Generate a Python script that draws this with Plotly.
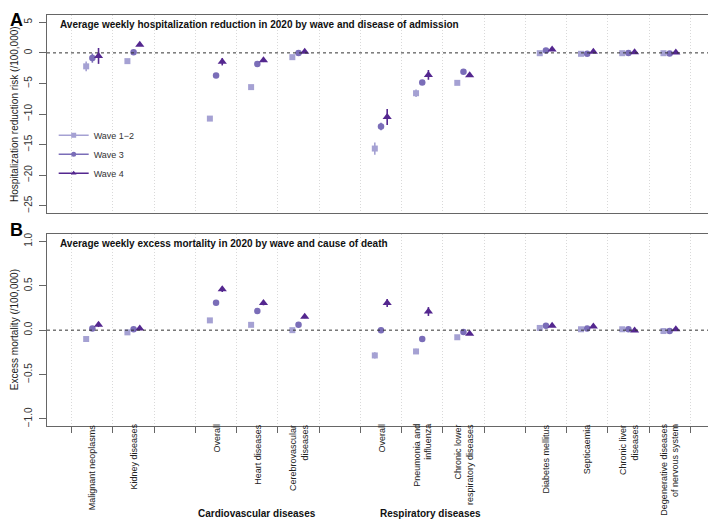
import plotly.graph_objects as go

# ---------------- data ----------------
categories = ["Malignant neoplasms", "Kidney diseases", "Overall", "Heart diseases",
              "Cerebrovascular<br>diseases", "Overall", "Pneumonia and<br>influenza",
              "Chronic lower<br>respiratory diseases", "Diabetes mellitus", "Septicaemia",
              "Chronic liver<br>diseases", "Degenerative diseases<br>of nervous system"]
waves = ["Wave 1\u22122", "Wave 3", "Wave 4"]
groups = ["Cardiovascular diseases", "Respiratory diseases"]

hosp_w12 = [-2.2, -1.35, -10.75, -5.6, -0.7, -15.65, -6.6, -4.9, -0.05, -0.15, -0.05, -0.05]
hosp_w3 = [-0.85, 0.1, -3.7, -1.8, 0.0, -12.05, -4.85, -3.1, 0.4, -0.15, 0.0, -0.1]
hosp_w4 = [-0.5, 1.35, -1.45, -1.2, 0.2, -10.5, -3.6, -3.65, 0.55, 0.2, 0.1, 0.05]
hosp_e12 = [0.8, 0.2, 0.3, 0.3, 0.2, 1.0, 0.6, 0.3, 0.1, 0.1, 0.1, 0.1]
hosp_e3 = [0.75, 0.2, 0.3, 0.2, 0.1, 0.6, 0.3, 0.2, 0.1, 0.1, 0.1, 0.1]
hosp_e4 = [1.3, 0.2, 0.6, 0.3, 0.1, 1.3, 0.8, 0.2, 0.1, 0.1, 0.1, 0.1]

mort_w12 = [-0.10, -0.025, 0.11, 0.06, 0.0, -0.285, -0.24, -0.08, 0.025, 0.01, 0.01, -0.01]
mort_w3 = [0.02, 0.01, 0.31, 0.215, 0.06, 0.0, -0.10, -0.02, 0.05, 0.02, 0.01, -0.01]
mort_w4 = [0.06, 0.02, 0.46, 0.305, 0.15, 0.305, 0.21, -0.04, 0.05, 0.04, -0.005, 0.01]
mort_e12 = [0.015, 0.01, 0.02, 0.015, 0.01, 0.035, 0.03, 0.01, 0.01, 0.005, 0.005, 0.005]
mort_e3 = [0.01, 0.005, 0.015, 0.01, 0.01, 0.015, 0.01, 0.01, 0.005, 0.005, 0.005, 0.005]
mort_e4 = [0.025, 0.01, 0.03, 0.025, 0.015, 0.045, 0.05, 0.01, 0.01, 0.01, 0.005, 0.005]

# ---------------- layout helpers ----------------
positions = [1, 2, 4, 5, 6, 8, 9, 10, 12, 13, 14, 15]
group_pos = [5, 9.2]
grid_pos = [p + 0.5 for p in range(0, 16)]
offsets = [-0.15, 0.0, 0.15]
colors = ["#A5A1D3", "#7A6DB8", "#54278F"]
symbols = ["square", "circle", "triangle-up"]
sizes = [6, 6.5, 8]
FONT = "Liberation Sans, Arial, sans-serif"

fig = go.Figure()

panels = [
    ("x", "y", [hosp_w12, hosp_w3, hosp_w4], [hosp_e12, hosp_e3, hosp_e4]),
    ("x2", "y2", [mort_w12, mort_w3, mort_w4], [mort_e12, mort_e3, mort_e4]),
]
for xa, ya, vals, errs in panels:
    for i in range(3):
        fig.add_trace(go.Scatter(
            x=[p + offsets[i] for p in positions], y=vals[i], mode="markers",
            marker=dict(symbol=symbols[i], size=sizes[i], color=colors[i], line=dict(width=0)),
            error_y=dict(type="data", array=errs[i], color=colors[i], thickness=1.6, width=0),
            showlegend=False, xaxis=xa, yaxis=ya, name=waves[i]))

# legend entries
for i in range(3):
    fig.add_trace(go.Scatter(
        x=[None], y=[None], mode="lines+markers", name=waves[i],
        marker=dict(symbol=symbols[i], size=5, color=colors[i]),
        line=dict(color=colors[i], width=1.5), xaxis="x", yaxis="y"))

axis_common = dict(range=[-0.1, 16.1], tickvals=grid_pos, showticklabels=False,
                   showgrid=True, gridcolor="#d9d9d9", griddash="1px,2px", gridwidth=1,
                   showline=True, mirror=True, linecolor="#666666", linewidth=1,
                   zeroline=False)
yaxis_common = dict(showline=True, mirror=True, linecolor="#666666", linewidth=1,
                    showgrid=False, zeroline=False, ticks="outside", ticklen=7,
                    tickcolor="#666666", tickangle=-90, ticklabelstandoff=3,
                    tickfont=dict(size=10, color="#333333", family=FONT))

# page has an 8px body margin: figure is 8px smaller so it ends at the window edge
fig.update_layout(
    width=708, height=514,
    margin=dict(l=39, r=1, t=7, b=96),
    paper_bgcolor="white", plot_bgcolor="white",
    font=dict(family=FONT, color="#222222"),
    xaxis=dict(domain=[0, 1], anchor="y", ticks="", **axis_common),
    yaxis=dict(domain=[0.5182, 1], anchor="x", range=[-26.2, 6.2],
               tickvals=[-25, -20, -15, -10, -5, 0, 5], **yaxis_common),
    xaxis2=dict(domain=[0, 1], anchor="y2", ticks="outside", ticklen=6,
                tickcolor="#666666", **axis_common),
    yaxis2=dict(domain=[0, 0.4664], anchor="x2", range=[-1.08, 1.08],
                tickvals=[-1.0, -0.5, 0.0, 0.5, 1.0], tickformat=".1f", **yaxis_common),
    showlegend=True,
    legend=dict(x=0.010, y=0.7426, xanchor="left", yanchor="top", bgcolor="rgba(0,0,0,0)",
                font=dict(size=9, color="#333333", family=FONT), tracegroupgap=0,
                itemwidth=30),
)

shapes = []
for ya in ["y", "y2"]:
    shapes.append(dict(type="line", xref="x domain" if ya == "y" else "x2 domain", yref=ya,
                       x0=0, x1=1, y0=0, y1=0, line=dict(color="#333333", width=1, dash="3px,3px")))
fig.update_layout(shapes=shapes)

ann = []
ann.append(dict(text="<b>Average weekly hospitalization reduction in 2020 by wave and disease of admission</b>",
                xref="x domain", yref="y domain", x=0.017, y=0.954, xanchor="left", yanchor="middle",
                showarrow=False, font=dict(size=10, color="#111111")))
ann.append(dict(text="<b>Average weekly excess mortality in 2020 by wave and cause of death</b>",
                xref="x2 domain", yref="y2 domain", x=0.017, y=0.954, xanchor="left", yanchor="middle",
                showarrow=False, font=dict(size=10, color="#111111")))
ann.append(dict(text="<b>A</b>", xref="paper", yref="paper", x=-0.0584, y=1.017,
                xanchor="left", yanchor="top", showarrow=False, font=dict(size=18, color="#000000")))
ann.append(dict(text="<b>B</b>", xref="paper", yref="paper", x=-0.0584, y=0.477,
                xanchor="left", yanchor="middle", showarrow=False, font=dict(size=18, color="#000000")))
ann.append(dict(text="Hospitalization reduction risk (/100,000)", xref="paper", yref="y domain",
                x=-0.0494, y=0.5, xanchor="center", yanchor="middle", textangle=-90,
                showarrow=False, font=dict(size=10, color="#222222")))
ann.append(dict(text="Excess mortality (/100,000)", xref="paper", yref="y2 domain",
                x=-0.0494, y=0.5, xanchor="center", yanchor="middle", textangle=-90,
                showarrow=False, font=dict(size=10, color="#222222")))
for c, p in zip(categories, positions):
    ann.append(dict(text=c, xref="x2", yref="paper", x=p, y=0, yshift=4,
                    xanchor="center", yanchor="top", textangle=-90, align="right",
                    showarrow=False, font=dict(size=9, color="#222222")))
for g, p in zip(groups, group_pos):
    ann.append(dict(text="<b>" + g + "</b>", xref="x2", yref="paper", x=p, y=-0.2117,
                    xanchor="center", yanchor="middle", showarrow=False,
                    font=dict(size=10, color="#111111")))
fig.update_layout(annotations=ann)

fig.write_html("out.html")
